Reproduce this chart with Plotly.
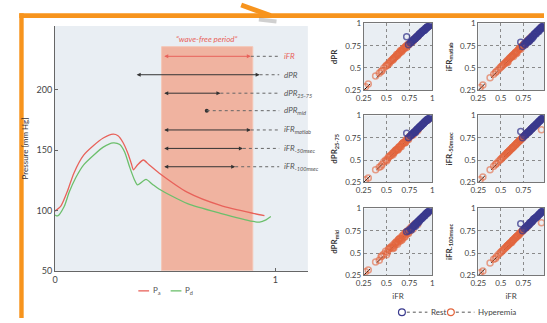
import plotly.graph_objects as go

W, H = 547, 323

# ---------------- data: left panel ----------------
PA_X = [0.000, 0.027, 0.057, 0.086, 0.130, 0.175, 0.219, 0.264, 0.286, 0.308, 0.331, 0.346, 0.356,
        0.375, 0.401, 0.427, 0.472, 0.602, 0.751, 0.899, 0.951]
PA_Y = [99.5, 103.9, 116.4, 131.2, 145.9, 153.9, 160.1, 163.3, 162.0, 156.6, 147.3, 139.2, 133.8,
        137.9, 141.9, 137.9, 131.2, 115.1, 104.3, 97.7, 95.8]
PD_X = [0.000, 0.012, 0.041, 0.064, 0.094, 0.130, 0.175, 0.219, 0.264, 0.294, 0.316, 0.338, 0.360,
        0.375, 0.413, 0.442, 0.472, 0.602, 0.751, 0.899, 0.929, 0.958, 0.980]
PD_Y = [96.3, 95.5, 103.1, 115.1, 127.2, 137.9, 145.9, 152.6, 156.1, 154.7, 148.6, 136.5, 125.8,
        121.2, 125.8, 121.8, 117.8, 105.7, 97.7, 91.0, 90.4, 92.3, 95.0]

WINDOW_X = [0.484, 0.898]
WINDOW_TOP = 235.9

ARROW_LABELS = ["iFR", "dPR", "dPR<sub>25-75</sub>", "dPR<sub>mid</sub>", "iFR<sub>matlab</sub>",
                "iFR<sub>-50msec</sub>", "iFR<sub>-100msec</sub>"]
ARROW_Y = [227.9, 212.6, 197.3, 182.8, 166.8, 151.5, 136.3]
ARROW_START = [0.489, 0.364, 0.489, None, 0.489, 0.489, 0.489]
ARROW_END = [0.889, 0.929, 0.751, 0.689, 0.889, 0.853, 0.818]
LABEL_X = 1.031
DASH_END = 1.018

# ---------------- data: scatter panels ----------------
IFR_REST = [0.72, 0.74, 0.76, 0.78, 0.79, 0.80, 0.81, 0.82, 0.83, 0.84, 0.85, 0.86, 0.87, 0.88, 0.89, 0.90,
            0.91, 0.92, 0.93, 0.94, 0.95, 0.96, 0.97, 0.98, 0.99, 1.00, 0.875, 0.905, 0.935, 0.965, 0.985,
            0.77, 0.80, 0.83, 0.86, 0.89, 0.92, 0.95, 0.98, 0.815, 0.845]
IFR_HYP = [0.27, 0.30, 0.38, 0.42, 0.45, 0.47, 0.49, 0.51, 0.52, 0.54, 0.55, 0.56, 0.57, 0.58, 0.59, 0.60,
           0.61, 0.62, 0.63, 0.64, 0.65, 0.66, 0.67, 0.68, 0.69, 0.70, 0.71, 0.72, 0.73, 0.74, 0.75, 0.76,
           0.78, 0.80, 0.82, 0.85, 0.95,
           0.50, 0.53, 0.57, 0.60, 0.62, 0.64, 0.66, 0.68, 0.70, 0.72, 0.74, 0.77, 0.79, 0.81, 0.84, 0.44,
           0.58, 0.63, 0.67, 0.71]

DPR_REST = [0.85, 0.76, 0.78, 0.80, 0.81, 0.82, 0.83, 0.84, 0.85, 0.86, 0.87, 0.88, 0.89, 0.90, 0.91, 0.92,
            0.92, 0.93, 0.94, 0.95, 0.96, 0.97, 0.98, 0.98, 0.99, 1.00, 0.89, 0.92, 0.95, 0.97, 0.99,
            0.79, 0.82, 0.85, 0.88, 0.91, 0.94, 0.97, 1.00, 0.83, 0.86]
DPR_HYP = [0.29, 0.32, 0.41, 0.44, 0.47, 0.50, 0.52, 0.53, 0.55, 0.57, 0.58, 0.59, 0.60, 0.61, 0.62, 0.63,
           0.65, 0.65, 0.66, 0.67, 0.69, 0.70, 0.70, 0.71, 0.72, 0.73, 0.74, 0.75, 0.76, 0.77, 0.77, 0.78,
           0.80, 0.82, 0.84, 0.87, 0.96,
           0.53, 0.55, 0.59, 0.63, 0.64, 0.67, 0.68, 0.71, 0.72, 0.73, 0.76, 0.79, 0.80, 0.83, 0.85, 0.46,
           0.61, 0.66, 0.69, 0.74]
MATLAB_REST = [0.79, 0.74, 0.77, 0.78, 0.80, 0.80, 0.82, 0.82, 0.84, 0.84, 0.86, 0.86, 0.88, 0.88, 0.90, 0.90,
               0.92, 0.92, 0.94, 0.94, 0.96, 0.96, 0.98, 0.98, 1.00, 1.00, 0.88, 0.91, 0.94, 0.97, 0.99,
               0.76, 0.79, 0.82, 0.85, 0.88, 0.91, 0.94, 0.97, 0.80, 0.83]
MATLAB_HYP = [0.28, 0.31, 0.39, 0.43, 0.46, 0.48, 0.50, 0.52, 0.53, 0.55, 0.56, 0.57, 0.58, 0.59, 0.60, 0.61,
              0.62, 0.63, 0.64, 0.65, 0.66, 0.67, 0.68, 0.69, 0.70, 0.71, 0.72, 0.73, 0.74, 0.75, 0.76, 0.77,
              0.79, 0.81, 0.83, 0.86, 0.96,
              0.51, 0.54, 0.56, 0.61, 0.63, 0.63, 0.67, 0.67, 0.71, 0.71, 0.75, 0.76, 0.80, 0.80, 0.85, 0.45,
              0.57, 0.64, 0.66, 0.72]
D2575_REST = [0.80, 0.75, 0.77, 0.79, 0.80, 0.81, 0.82, 0.83, 0.84, 0.85, 0.86, 0.87, 0.88, 0.89, 0.90, 0.91,
              0.92, 0.93, 0.94, 0.95, 0.95, 0.96, 0.97, 0.98, 0.99, 1.00, 0.88, 0.91, 0.94, 0.97, 0.99,
              0.78, 0.81, 0.84, 0.87, 0.90, 0.93, 0.96, 0.99, 0.81, 0.85]
D2575_HYP = [0.28, 0.30, 0.39, 0.42, 0.45, 0.48, 0.50, 0.51, 0.53, 0.55, 0.55, 0.57, 0.58, 0.58, 0.60, 0.61,
             0.62, 0.62, 0.64, 0.65, 0.65, 0.67, 0.68, 0.69, 0.70, 0.70, 0.72, 0.73, 0.73, 0.75, 0.76, 0.77,
             0.78, 0.80, 0.82, 0.85, 0.95,
             0.49, 0.54, 0.56, 0.61, 0.61, 0.65, 0.65, 0.69, 0.69, 0.73, 0.73, 0.78, 0.78, 0.82, 0.83, 0.43,
             0.59, 0.62, 0.68, 0.70]
M50_REST = [0.82, 0.75, 0.77, 0.79, 0.80, 0.81, 0.82, 0.83, 0.84, 0.85, 0.86, 0.87, 0.88, 0.89, 0.90, 0.91,
            0.92, 0.93, 0.94, 0.95, 0.96, 0.97, 0.98, 0.99, 0.99, 1.00, 0.88, 0.91, 0.94, 0.97, 0.99,
            0.78, 0.81, 0.84, 0.87, 0.90, 0.93, 0.96, 0.99, 0.82, 0.85]
M50_HYP = [0.28, 0.31, 0.39, 0.43, 0.46, 0.48, 0.50, 0.52, 0.53, 0.55, 0.56, 0.57, 0.58, 0.59, 0.60, 0.61,
           0.62, 0.63, 0.64, 0.65, 0.66, 0.67, 0.68, 0.69, 0.70, 0.71, 0.72, 0.73, 0.74, 0.75, 0.76, 0.77,
           0.79, 0.81, 0.83, 0.86, 0.84,
           0.51, 0.54, 0.58, 0.61, 0.63, 0.65, 0.67, 0.69, 0.71, 0.73, 0.75, 0.78, 0.80, 0.82, 0.85, 0.45,
           0.59, 0.64, 0.68, 0.72]
MID_REST = [0.74, 0.75, 0.77, 0.78, 0.80, 0.81, 0.82, 0.83, 0.84, 0.85, 0.86, 0.87, 0.88, 0.89, 0.90, 0.91,
            0.92, 0.93, 0.94, 0.95, 0.96, 0.97, 0.98, 0.99, 1.00, 1.00, 0.88, 0.91, 0.94, 0.97, 0.99,
            0.76, 0.80, 0.83, 0.86, 0.89, 0.92, 0.95, 0.98, 0.80, 0.84]
MID_HYP = [0.29, 0.31, 0.40, 0.42, 0.47, 0.49, 0.52, 0.51, 0.54, 0.56, 0.57, 0.56, 0.59, 0.58, 0.61, 0.60,
           0.63, 0.62, 0.65, 0.63, 0.67, 0.66, 0.69, 0.67, 0.71, 0.69, 0.73, 0.71, 0.75, 0.73, 0.77, 0.75,
           0.80, 0.80, 0.83, 0.85, 0.95,
           0.48, 0.55, 0.55, 0.62, 0.60, 0.66, 0.64, 0.70, 0.68, 0.74, 0.72, 0.79, 0.77, 0.83, 0.82, 0.46,
           0.56, 0.65, 0.65, 0.73]
M100_REST = [0.83, 0.75, 0.77, 0.79, 0.80, 0.81, 0.82, 0.84, 0.84, 0.85, 0.86, 0.88, 0.88, 0.89, 0.90, 0.91,
             0.92, 0.93, 0.94, 0.95, 0.96, 0.97, 0.98, 0.99, 1.00, 1.00, 0.89, 0.91, 0.94, 0.97, 0.99,
             0.78, 0.81, 0.84, 0.87, 0.90, 0.93, 0.96, 0.99, 0.82, 0.85]
M100_HYP = [0.28, 0.30, 0.39, 0.43, 0.46, 0.48, 0.50, 0.52, 0.53, 0.55, 0.56, 0.57, 0.58, 0.59, 0.60, 0.61,
            0.62, 0.63, 0.64, 0.65, 0.66, 0.67, 0.68, 0.69, 0.70, 0.71, 0.72, 0.73, 0.74, 0.75, 0.76, 0.77,
            0.79, 0.81, 0.83, 0.86, 0.84,
            0.51, 0.54, 0.58, 0.61, 0.62, 0.65, 0.67, 0.69, 0.70, 0.73, 0.75, 0.78, 0.79, 0.82, 0.85, 0.44,
            0.59, 0.64, 0.68, 0.72]

PANEL_TITLES = ["dPR", "iFR<sub>matlab</sub>", "dPR<sub>25-75</sub>", "iFR<sub>-50msec</sub>",
                "dPR<sub>mid</sub>", "iFR<sub>-100msec</sub>"]
PANEL_REST = [DPR_REST, MATLAB_REST, D2575_REST, M50_REST, MID_REST, M100_REST]
PANEL_HYP = [DPR_HYP, MATLAB_HYP, D2575_HYP, M50_HYP, MID_HYP, M100_HYP]
SC_TICKS = [0.25, 0.5, 0.75, 1]
SC_TICKTEXT = ["0.25", "0.5", "0.75", "1"]
DIAG = [0.25, 1.0]

# ---------------- styling ----------------
FONT = "Lato"
RED = "#e8625a"
GREEN = "#6cbf6c"
NAVY = "#3a3a8e"
ORANGE_PT = "#e2653d"
BG = "#e9eef3"
FRAME = "#f7941d"


def px(x):
    return x / W


def py(y):
    return 1 - y / H


fig = go.Figure()

# Left panel curves
fig.add_trace(go.Scatter(x=PA_X, y=PA_Y, mode="lines", line=dict(color=RED, width=1.3, shape="spline", smoothing=0.7),
                         xaxis="x", yaxis="y", showlegend=False, name="Pa"))
fig.add_trace(go.Scatter(x=PD_X, y=PD_Y, mode="lines", line=dict(color=GREEN, width=1.3, shape="spline", smoothing=0.7),
                         xaxis="x", yaxis="y", showlegend=False, name="Pd"))

shapes = []
annotations = []

# wave-free window
shapes.append(dict(type="rect", xref="x", yref="y", x0=WINDOW_X[0], x1=WINDOW_X[1], y0=50, y1=WINDOW_TOP,
                   fillcolor="#f0b3a0", line=dict(color="#f4c6b6", width=1), layer="below"))
annotations.append(dict(xref="x", yref="y", x=(WINDOW_X[0] + WINDOW_X[1]) / 2, y=242.3,
                        text="<i>“wave-free period”</i>", showarrow=False,
                        font=dict(family=FONT, size=8, color=RED)))

# arrows
for i, lab in enumerate(ARROW_LABELS):
    col = RED if i == 0 else "#333333"
    yv = ARROW_Y[i]
    if ARROW_START[i] is not None:
        annotations.append(dict(xref="x", yref="y", axref="x", ayref="y", x=ARROW_END[i], y=yv,
                                ax=ARROW_START[i], ay=yv, text="", showarrow=True, arrowhead=2,
                                startarrowhead=2, arrowside="end+start", arrowsize=0.8, startarrowsize=0.8,
                                arrowwidth=1, arrowcolor=col, standoff=0, startstandoff=0))
    shapes.append(dict(type="line", xref="x", yref="y", x0=ARROW_END[i], x1=DASH_END, y0=yv, y1=yv,
                       line=dict(color="#666666", width=1, dash="dot")))
    annotations.append(dict(xref="x", yref="y", x=LABEL_X, y=yv, text="<i>" + lab + "</i>", showarrow=False,
                            xanchor="left", yanchor="middle",
                            font=dict(family=FONT, size=8, color=(RED if i == 0 else "#555555"))))

fig.add_trace(go.Scatter(x=[ARROW_END[3]], y=[ARROW_Y[3]], mode="markers",
                         marker=dict(color="#333333", size=4), xaxis="x", yaxis="y", showlegend=False))

# Scatter panels
COL_DOM = [[px(363), px(433)], [px(480), 1.0]]
COL_RANGE = [[0.25, 1.0], [0.25, 0.978]]
ROW_DOM = [[py(88), py(19)], [py(183), py(114)], [py(279), py(210)]]

layout_axes = {}
for k in range(6):
    r, c = k // 2, k % 2
    n = k + 2
    xa, ya = "x%d" % n, "y%d" % n
    fig.add_trace(go.Scatter(x=DIAG, y=DIAG, mode="lines", line=dict(color="black", width=1, dash="dash"),
                             xaxis=xa, yaxis=ya, showlegend=False))
    fig.add_trace(go.Scatter(x=IFR_HYP, y=PANEL_HYP[k], mode="markers",
                             marker=dict(symbol="circle-open", size=6, color=ORANGE_PT, opacity=0.6,
                                         line=dict(width=1.5)),
                             xaxis=xa, yaxis=ya, showlegend=False, name="Hyperemia"))
    fig.add_trace(go.Scatter(x=IFR_REST, y=PANEL_REST[k], mode="markers",
                             marker=dict(symbol="circle-open", size=6, color=NAVY, opacity=0.75,
                                         line=dict(width=1.5)),
                             xaxis=xa, yaxis=ya, showlegend=False, name="Rest"))
    common = dict(tickvals=SC_TICKS, ticktext=SC_TICKTEXT, showgrid=True, gridcolor="#8a8a8a",
                  griddash="dot", gridwidth=0.8, showline=True, mirror=True, linecolor="#777777",
                  linewidth=1, zeroline=False, ticks="", tickfont=dict(family=FONT, size=8, color="#444"))
    layout_axes["xaxis%d" % n] = dict(domain=COL_DOM[c], range=COL_RANGE[c], anchor=ya,
                                      title=dict(text=("iFR" if r == 2 else ""), standoff=6,
                                                 font=dict(family=FONT, size=8, color="#444")),
                                      **common)
    layout_axes["yaxis%d" % n] = dict(domain=ROW_DOM[r], range=[0.25, 1.0], anchor=xa,
                                      title=dict(text="<b>" + PANEL_TITLES[k] + "</b>", standoff=6,
                                                 font=dict(family=FONT, size=8, color="#333")),
                                      **common)

# frame & decorative arrow
shapes.append(dict(type="rect", xref="paper", yref="paper", x0=px(11.5), x1=1.0, y0=py(13.5), y1=py(8.5),
                   fillcolor=FRAME, line=dict(width=0)))
shapes.append(dict(type="rect", xref="paper", yref="paper", x0=px(11.5), x1=px(16), y0=0, y1=py(8.5),
                   fillcolor=FRAME, line=dict(width=0)))
shapes.append(dict(type="line", xref="paper", yref="paper", x0=px(256), x1=px(274), y0=py(15), y1=py(17),
                   line=dict(color="rgba(120,120,120,0.35)", width=4)))
shapes.append(dict(type="line", xref="paper", yref="paper", x0=px(238), x1=px(268), y0=py(0), y1=py(11),
                   line=dict(color=FRAME, width=5)))

# left legend (Pa / Pd)
shapes.append(dict(type="line", xref="paper", yref="paper", x0=px(133), x1=px(144), y0=py(295), y1=py(295),
                   line=dict(color=RED, width=1.3)))
shapes.append(dict(type="line", xref="paper", yref="paper", x0=px(166), x1=px(177), y0=py(295), y1=py(295),
                   line=dict(color=GREEN, width=1.3)))
annotations.append(dict(xref="paper", yref="paper", x=px(146), y=py(295), text="P<sub>a</sub>", showarrow=False,
                        xanchor="left", yanchor="middle", font=dict(family=FONT, size=8, color="#555")))
annotations.append(dict(xref="paper", yref="paper", x=px(179), y=py(295), text="P<sub>d</sub>", showarrow=False,
                        xanchor="left", yanchor="middle", font=dict(family=FONT, size=8, color="#555")))

# right legend (Rest / Hyperemia)
for cx, col, x0, x1, tx, txt in [(402, NAVY, 407, 428, 430, "Rest"), (452, ORANGE_PT, 457, 476, 478, "Hyperemia")]:
    shapes.append(dict(type="circle", xref="paper", yref="paper", x0=px(cx - 3.5), x1=px(cx + 3.5),
                       y0=py(317 + 3.5), y1=py(317 - 3.5), line=dict(color=col, width=1.2)))
    shapes.append(dict(type="line", xref="paper", yref="paper", x0=px(x0), x1=px(x1), y0=py(317), y1=py(317),
                       line=dict(color="#555", width=1, dash="dot")))
    annotations.append(dict(xref="paper", yref="paper", x=px(tx), y=py(317), text=txt, showarrow=False,
                            xanchor="left", yanchor="middle", font=dict(family=FONT, size=8, color="#444")))

fig.update_layout(
    width=W, height=H, margin=dict(l=0, r=0, t=0, b=0),
    paper_bgcolor="white", plot_bgcolor=BG, showlegend=False,
    font=dict(family=FONT, size=8, color="#444"),
    xaxis=dict(domain=[px(48), px(306)], range=[0, 1.148], tickvals=[0, 1], ticks="inside", ticklen=3,
               tickcolor="#666", showline=True, linecolor="#666", linewidth=1, showgrid=False, zeroline=False,
               tickfont=dict(family=FONT, size=9, color="#444"), anchor="y"),
    yaxis=dict(domain=[py(274.3), py(21.7)], range=[50, 253], tickvals=[50, 100, 150, 200], ticks="inside",
               ticklen=3, tickcolor="#666", showline=True, linecolor="#666", linewidth=1, showgrid=False,
               zeroline=False, tickfont=dict(family=FONT, size=9, color="#444"), anchor="x",
               title=dict(text="Pressure [mm Hg]", standoff=6, font=dict(family=FONT, size=8, color="#333"))),
    shapes=shapes, annotations=annotations,
    **layout_axes
)

fig.write_html("out.html", config={"displayModeBar": False},
               post_script="document.body.style.margin='0';document.body.style.overflow='hidden';")
